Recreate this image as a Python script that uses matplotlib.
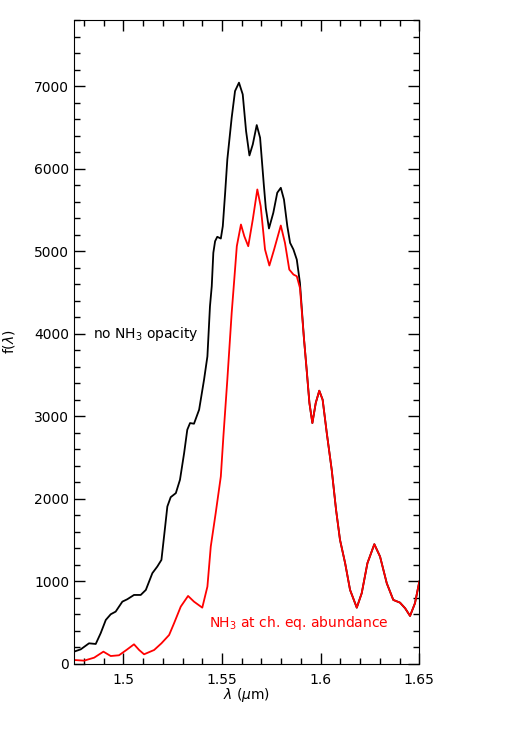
import matplotlib
matplotlib.use("Agg")
import matplotlib.pyplot as plt
from matplotlib.ticker import MultipleLocator, FixedFormatter, FixedLocator

# black curve: no NH3 opacity (until it joins the red one)
lam_no = [1.4750, 1.4784, 1.4826, 1.4860, 1.4885, 1.4911, 1.4936, 1.4961, 1.4995,
          1.5020, 1.5054, 1.5088, 1.5114, 1.5147, 1.5172, 1.5193, 1.5210, 1.5223,
          1.5240, 1.5266, 1.5287, 1.5308, 1.5324, 1.5338, 1.5358, 1.5384, 1.5409,
          1.5426, 1.5439, 1.5448, 1.5456, 1.5465, 1.5476, 1.5494, 1.5504, 1.5516,
          1.5527, 1.5549, 1.5566, 1.5586, 1.5605, 1.5622, 1.5639, 1.5656, 1.5676,
          1.5693, 1.5712, 1.5722, 1.5738, 1.5760, 1.5780, 1.5798, 1.5814, 1.5831,
          1.5845, 1.5862, 1.5879, 1.5895]
f_no = [146, 174, 247, 239, 369, 530, 599, 631, 752,
        781, 833, 833, 894, 1097, 1177, 1258, 1622, 1905,
        2018, 2067, 2229, 2552, 2835, 2916, 2908, 3078, 3442,
        3724, 4331, 4574, 4979, 5120, 5173, 5152, 5302, 5710,
        6111, 6616, 6939, 7041, 6899, 6454, 6159, 6293, 6527,
        6374, 5800, 5520, 5274, 5464, 5707, 5767, 5625, 5302,
        5100, 5019, 4897, 4615]

# red curve: NH3 at chemical equilibrium abundance
lam_eq = [1.4750, 1.4801, 1.4852, 1.4899, 1.4936, 1.4978, 1.5020, 1.5054, 1.5080,
          1.5105, 1.5156, 1.5193, 1.5232, 1.5257, 1.5291, 1.5328, 1.5358, 1.5400,
          1.5426, 1.5443, 1.5468, 1.5494, 1.5507, 1.5527, 1.5549, 1.5561, 1.5575,
          1.5596, 1.5613, 1.5633, 1.5656, 1.5679, 1.5696, 1.5718, 1.5740, 1.5764,
          1.5798, 1.5819, 1.5841, 1.5862, 1.5879, 1.5895]
f_eq = [45, 37, 73, 146, 93, 102, 174, 235, 166,
        114, 166, 247, 348, 490, 692, 821, 752, 679,
        934, 1419, 1825, 2269, 2754, 3442, 4250, 4620, 5059,
        5322, 5180, 5059, 5383, 5747, 5544, 5019, 4825, 5019,
        5310, 5100, 4776, 4716, 4695, 4554]

# common tail where both curves coincide
lam_tail = [1.5915, 1.5929, 1.5943, 1.5958, 1.5975, 1.5993, 1.6010, 1.6031, 1.6056,
            1.6078, 1.6098, 1.6124, 1.6149, 1.6183, 1.6208, 1.6237, 1.6272, 1.6301,
            1.6335, 1.6368, 1.6402, 1.6428, 1.6453, 1.6478, 1.6500]
f_tail = [3950, 3563, 3159, 2916, 3159, 3308, 3199, 2795, 2350,
          1865, 1501, 1218, 894, 679, 854, 1218, 1448, 1298,
          975, 773, 740, 672, 579, 733, 995]

fig = plt.figure(figsize=(5.18, 7.39), dpi=100)
ax = fig.add_axes([0.1429, 0.1019, 0.8095 - 0.1429, 0.9729 - 0.1019])

ax.plot(lam_no + lam_tail, f_no + f_tail, color='black', lw=1.3,
        solid_joinstyle='round')
ax.plot(lam_eq + lam_tail, f_eq + f_tail, color='red', lw=1.3,
        solid_joinstyle='round')

ax.set_xlim(1.475, 1.65)
ax.set_ylim(0, 7800)

ax.xaxis.set_major_locator(FixedLocator([1.5, 1.55, 1.6, 1.65]))
ax.xaxis.set_major_formatter(FixedFormatter(['1.5', '1.55', '1.6', '1.65']))
ax.xaxis.set_minor_locator(MultipleLocator(0.01))
ax.yaxis.set_major_locator(MultipleLocator(1000))
ax.yaxis.set_minor_locator(MultipleLocator(200))

ax.tick_params(which='both', direction='in', top=True, right=True, labelsize=10)
ax.tick_params(which='major', length=8, width=1)
ax.tick_params(which='minor', length=4, width=1)
ax.tick_params(axis='x', pad=7)

ax.set_xlabel(r'$\lambda$ ($\mu$m)', fontsize=10, labelpad=-1)
ax.set_ylabel(r'f($\lambda$)', fontsize=10)
ax.yaxis.set_label_coords(-0.165, 0.5)

ax.text(1.4848, 4000, r'no NH$_3$ opacity', fontsize=10, va='center', ha='left')
ax.text(1.5436, 490, r'NH$_3$ at ch. eq. abundance', fontsize=10, va='center',
        ha='left', color='red')

fig.savefig('out.png', dpi=100)
